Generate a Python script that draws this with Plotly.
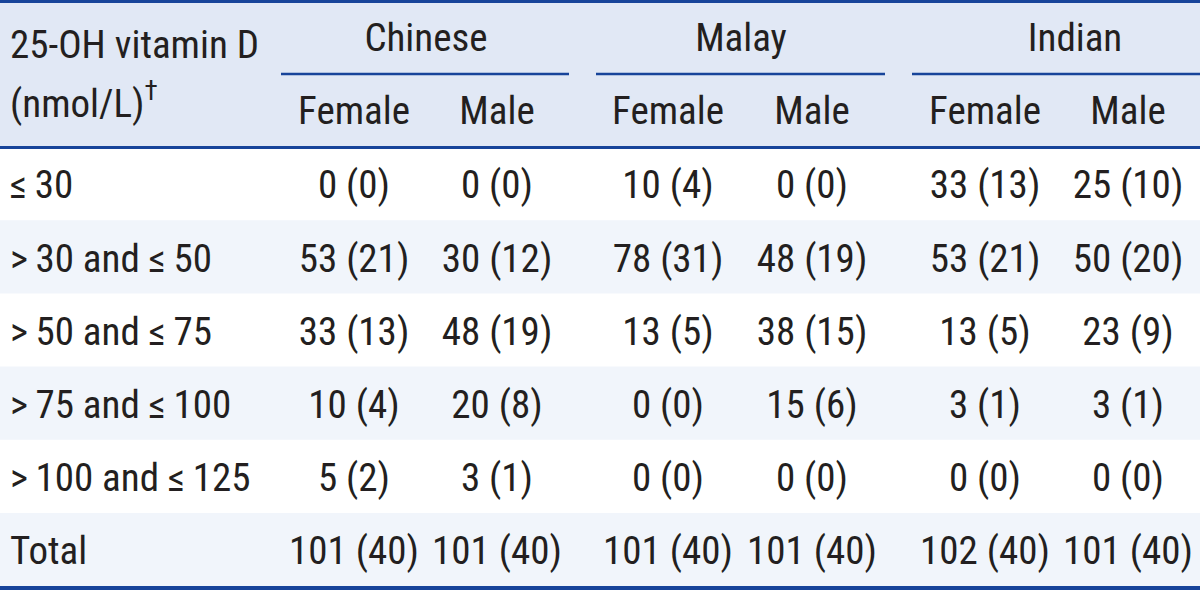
import plotly.graph_objects as go

# ---- data ----
row_labels = ["≤\u200930", ">\u200930 and ≤\u200950", ">\u200950 and ≤\u200975",
              ">\u200975 and ≤\u2009100", ">\u2009100 and ≤\u2009125", "Total"]
groups = ["Chinese", "Malay", "Indian"]
sexes = ["Female", "Male"]
header_label = ["25-OH vitamin D", "(nmol/L)<sup>†</sup>"]

chinese_female_n = [0, 53, 33, 10, 5, 101]
chinese_female_pct = [0, 21, 13, 4, 2, 40]
chinese_male_n = [0, 30, 48, 20, 3, 101]
chinese_male_pct = [0, 12, 19, 8, 1, 40]
malay_female_n = [10, 78, 13, 0, 0, 101]
malay_female_pct = [4, 31, 5, 0, 0, 40]
malay_male_n = [0, 48, 38, 15, 0, 101]
malay_male_pct = [0, 19, 15, 6, 0, 40]
indian_female_n = [33, 53, 13, 3, 0, 102]
indian_female_pct = [13, 21, 5, 1, 0, 40]
indian_male_n = [25, 50, 23, 3, 0, 101]
indian_male_pct = [10, 20, 9, 1, 0, 40]

columns = [
    (chinese_female_n, chinese_female_pct),
    (chinese_male_n, chinese_male_pct),
    (malay_female_n, malay_female_pct),
    (malay_male_n, malay_male_pct),
    (indian_female_n, indian_female_pct),
    (indian_male_n, indian_male_pct),
]

# ---- layout constants ----
W, H = 1200, 590
FONT = "Roboto, Roboto Condensed, sans-serif"
FS = 39
TXT = "#231f20"
BORDER = "#17449a"
HEAD_BG = "#e1e8f5"
ALT_BG = "#f1f5fb"

col_x = [354, 497, 668, 812, 985, 1128]
group_x = [426, 741, 1075]
group_line = [(281, 569), (596, 885), (912, 1200)]
header_bot = 147
row_h = 73.2
label_x = 10
dy = 4  # vertical text nudge

shapes = []
lx, ly, lt = [], [], []      # left-aligned texts
cx_, cy_, ct = [], [], []    # centered texts

# header background
shapes.append(dict(type="rect", x0=0, x1=W, y0=0, y1=header_bot, fillcolor=HEAD_BG,
                   line_width=0, layer="below"))
# rows
for i in range(len(row_labels)):
    y0 = header_bot + i * row_h
    y1 = y0 + row_h
    if i % 2 == 1:
        shapes.append(dict(type="rect", x0=0, x1=W, y0=y0, y1=y1, fillcolor=ALT_BG,
                           line_width=0, layer="below"))
    yc = (y0 + y1) / 2 + 1 + dy
    lx.append(label_x); ly.append(yc); lt.append(row_labels[i])
    for c, (n, p) in enumerate(columns):
        cx_.append(col_x[c]); cy_.append(yc); ct.append(f"{n[i]} ({p[i]})")

# header texts
lx += [label_x, label_x]; ly += [45 + 3, 104 + 3]; lt += header_label
for g, gx in zip(groups, group_x):
    cx_.append(gx); cy_.append(38 + 3); ct.append(g)
for c, x in enumerate(col_x):
    cx_.append(x); cy_.append(111 + 3); ct.append(sexes[c % 2])

# borders
shapes.append(dict(type="line", x0=0, x1=W, y0=1.5, y1=1.5, line=dict(color=BORDER, width=3)))
shapes.append(dict(type="line", x0=0, x1=W, y0=header_bot + 0.5, y1=header_bot + 0.5,
                   line=dict(color=BORDER, width=3)))
shapes.append(dict(type="line", x0=0, x1=W, y0=H - 2, y1=H - 2, line=dict(color=BORDER, width=4)))
for (a, b) in group_line:
    shapes.append(dict(type="line", x0=a, x1=b, y0=74, y1=74, line=dict(color=BORDER, width=2.5)))

tf = dict(family=FONT, size=FS, color=TXT)
fig = go.Figure()
fig.add_trace(go.Scatter(x=lx, y=ly, text=lt, mode="text", textposition="middle right",
                         textfont=tf, hoverinfo="skip", showlegend=False))
fig.add_trace(go.Scatter(x=cx_, y=cy_, text=ct, mode="text", textposition="middle center",
                         textfont=tf, hoverinfo="skip", showlegend=False))

fig.update_layout(
    width=W, height=H, margin=dict(l=0, r=0, t=0, b=0),
    paper_bgcolor="white", plot_bgcolor="white",
    xaxis=dict(range=[0, W], visible=False, fixedrange=True),
    yaxis=dict(range=[H, 0], visible=False, fixedrange=True),
    shapes=shapes,
    font=dict(family=FONT, size=FS, color=TXT),
    showlegend=False,
)

ps = ("document.body.style.margin='0';"
      "var s=document.createElement('style');"
      "s.textContent='text{font-stretch:condensed !important;}';"
      "document.head.appendChild(s);")
fig.write_html("out.html", config={"displayModeBar": False}, post_script=ps)
